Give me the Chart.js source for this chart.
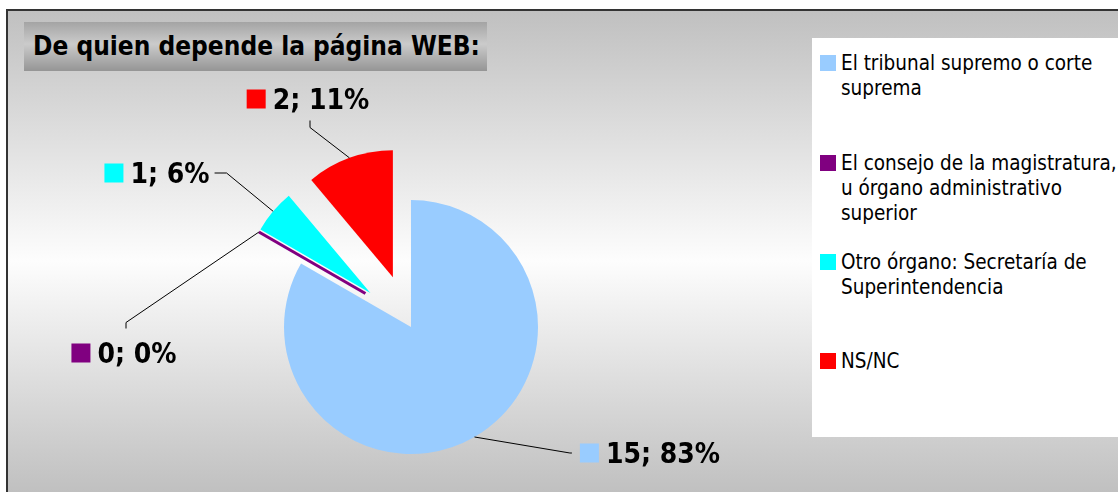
<!DOCTYPE html>
<html lang="es">
<head>
<meta charset="utf-8">
<title>De quien depende la página WEB</title>
<script src="https://cdn.jsdelivr.net/npm/chart.js@4/dist/chart.umd.min.js"></script>
<style>
  html, body { margin: 0; padding: 0; background: #fff; }
  #wrap { position: relative; width: 1118px; height: 492px; overflow: hidden;
          font-family: "DejaVu Sans Condensed", "DejaVu Sans", sans-serif; }
  #frame { position: absolute; left: 6px; top: 9px; width: 1130px; height: 500px;
           border-left: 2px solid #333; border-top: 2px solid #333;
           background: linear-gradient(to bottom, #c0c0c0 0%, #fdfdfd 50%, #bbbbbb 100%); }
  #chartBox { position: absolute; left: 0; top: 0; width: 1118px; height: 492px; }
  #titulo { position: absolute; left: 24px; top: 22px; width: 463px; height: 49px;
            background: linear-gradient(to bottom, #a4a4a4 0%, #cbcbcb 45%, #959595 100%);
            font-weight: bold; font-size: 26px; line-height: 49px; color: #000;
            padding-left: 9px; box-sizing: border-box; white-space: nowrap; }
  #leyenda { position: absolute; left: 812px; top: 38px; width: 320px; height: 399px;
             background: #fff; }
  .item { position: absolute; left: 8px; width: 310px; font-size: 20.5px; line-height: 25px; color: #000; }
  .item .sq { position: absolute; left: 0; top: 4px; width: 16px; height: 16px; }
  .item .tx { margin-left: 21px; width: 284px; }
</style>
</head>
<body>
<div id="wrap">
  <div id="frame"></div>
  <div id="chartBox"><canvas id="pieChart"></canvas></div>
  <div id="titulo">De quien depende la página WEB:</div>
  <div id="leyenda"></div>
</div>
<script>
// ====== Datos ======
const categorias = [
  'El tribunal supremo o corte suprema',
  'El consejo de la magistratura, u órgano administrativo superior',
  'Otro órgano: Secretaría de Superintendencia',
  'NS/NC'
];
const valores = [15, 0, 1, 2];
const colores = ['#99ccff', '#800080', '#00ffff', '#ff0000'];

// ====== Estilo de las porciones y etiquetas ======
const separacion = [0, 53, 53, 53];          // desplazamiento (px) de cada porción
const posEtiquetas = [[239, 126], [-287, 26], [-254, -154], [-103, -228]]; // desde el centro
const lineasLeyenda = [56, 156, 255, 354];   // top de cada entrada de leyenda

const total = valores.reduce((a, b) => a + b, 0);

// ====== Leyenda HTML ======
const leyenda = document.getElementById('leyenda');
categorias.forEach((cat, i) => {
  const item = document.createElement('div');
  item.className = 'item';
  item.style.top = (lineasLeyenda[i] - 38 - 5) + 'px';
  const sq = document.createElement('span');
  sq.className = 'sq';
  sq.style.background = colores[i];
  const tx = document.createElement('div');
  tx.className = 'tx';
  tx.textContent = cat;
  item.appendChild(sq);
  item.appendChild(tx);
  leyenda.appendChild(item);
});

// ====== Separar porciones ======
const explotar = {
  id: 'explotar',
  afterDatasetUpdate(chart, args) {
    const arcs = args.meta.data;
    const shift = arcs.map((arc, i) => {
      const mid = (arc.startAngle + arc.endAngle) / 2;
      return [Math.cos(mid) * separacion[i], Math.sin(mid) * separacion[i]];
    });
    arcs.forEach((arc, i) => {
      let s = shift[i];
      // porción vacía: se dibuja junto a la porción siguiente
      if (valores[i] === 0 && i + 1 < arcs.length) s = shift[i + 1];
      arc.x += s[0];
      arc.y += s[1];
    });
  },
  afterDatasetDraw(chart, args) {
    const ctx = chart.ctx;
    args.meta.data.forEach((arc, i) => {
      if (valores[i] !== 0) return;
      const a = arc.startAngle;
      const px = Math.cos(a + Math.PI / 2) * 3, py = Math.sin(a + Math.PI / 2) * 3;
      ctx.save();
      ctx.strokeStyle = colores[i];
      ctx.lineWidth = 3;
      ctx.beginPath();
      ctx.moveTo(arc.x - px + Math.cos(a) * 4, arc.y - py + Math.sin(a) * 4);
      ctx.lineTo(arc.x - px + Math.cos(a) * arc.outerRadius, arc.y - py + Math.sin(a) * arc.outerRadius);
      ctx.stroke();
      ctx.restore();
    });
  }
};

// ====== Etiquetas con líneas guía ======
const etiquetas = {
  id: 'etiquetas',
  afterDraw(chart) {
    const ctx = chart.ctx;
    const area = chart.chartArea;
    const cx0 = (area.left + area.right) / 2;
    const cy0 = (area.top + area.bottom) / 2;
    const meta = chart.getDatasetMeta(0);
    const fs = 28, sq = 19, gap = 7;
    ctx.save();
    ctx.font = `bold ${fs}px "DejaVu Sans Condensed", "DejaVu Sans", sans-serif`;
    meta.data.forEach((arc, i) => {
      const txt = `${valores[i]}; ${Math.round(valores[i] / total * 100)}%`;
      const tw = ctx.measureText(txt).width;
      const w = sq + gap + tw;
      const h = sq;
      const lx = cx0 + posEtiquetas[i][0];
      const ly = cy0 + posEtiquetas[i][1];

      // punto en el borde de la porción
      let ang = (arc.startAngle + arc.endAngle) / 2;
      let ax = arc.x, ay = arc.y;
      if (valores[i] === 0) {
        ang = arc.startAngle;
        ax -= Math.cos(ang + Math.PI / 2) * 3;
        ay -= Math.sin(ang + Math.PI / 2) * 3;
      }
      const px = ax + Math.cos(ang) * arc.outerRadius;
      const py = ay + Math.sin(ang) * arc.outerRadius;

      // punto de unión con la etiqueta
      const dx = px - lx, dy = py - ly;
      let bx, by, sx, sy;
      if (Math.abs(dy) > Math.abs(dx) * 0.6) {
        bx = lx + 2;
        by = dy > 0 ? ly + h / 2 + 12 : ly - h / 2 - 15;
        sx = bx; sy = by + (dy > 0 ? 7 : -6);
      } else {
        by = ly;
        bx = dx > 0 ? lx + w / 2 + 5 : lx - w / 2 - 8;
        sx = bx + (dx > 0 ? 12 : -2); sy = by;
      }
      ctx.strokeStyle = '#000';
      ctx.lineWidth = 1;
      ctx.beginPath();
      ctx.moveTo(bx, by);
      ctx.lineTo(sx, sy);
      ctx.lineTo(px, py);
      ctx.stroke();

      // cuadro de color y texto
      const x0 = lx - w / 2;
      ctx.fillStyle = colores[i];
      ctx.fillRect(x0, ly - sq / 2, sq, sq);
      ctx.fillStyle = '#000';
      ctx.textBaseline = 'alphabetic';
      ctx.textAlign = 'left';
      ctx.fillText(txt, x0 + sq + gap, ly + fs * 0.729 / 2);
    });
    ctx.restore();
  }
};

document.addEventListener('DOMContentLoaded', () => {
  const ctx = document.getElementById('pieChart').getContext('2d');
  new Chart(ctx, {
    type: 'pie',
    data: {
      labels: categorias,
      datasets: [{
        data: valores,
        backgroundColor: colores,
        borderWidth: 0
      }]
    },
    options: {
      responsive: true,
      maintainAspectRatio: false,
      animation: false,
      events: [],
      radius: 127,
      layout: { padding: { left: 0, right: 296, top: 162, bottom: 0 } },
      plugins: {
        legend: { display: false },
        tooltip: { enabled: false }
      }
    },
    plugins: [explotar, etiquetas]
  });
});
</script>
</body>
</html>
